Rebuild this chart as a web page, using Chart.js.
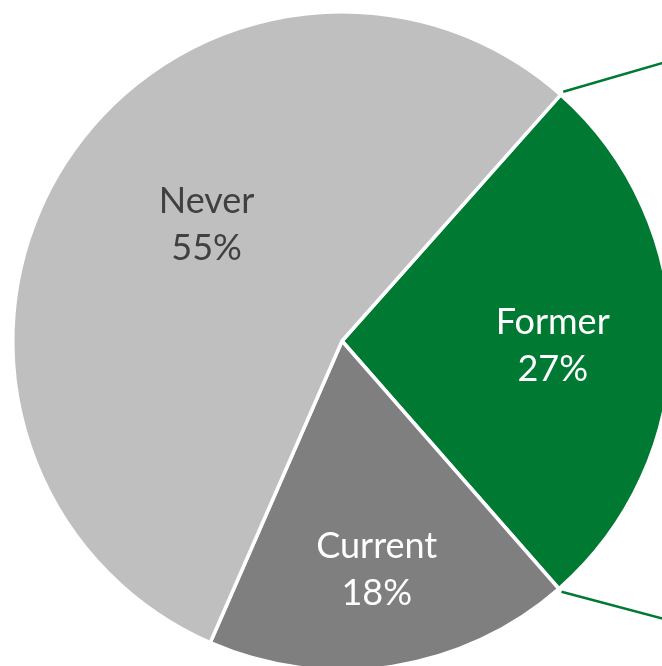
<!DOCTYPE html>
<html>
<head>
<meta charset="utf-8">
<script src="https://cdn.jsdelivr.net/npm/chart.js@4"></script>
<style>
  html, body { margin: 0; padding: 0; background: #fff; overflow: hidden; }
  #wrap { width: 684px; height: 682px; position: relative; }
</style>
</head>
<body>
<div id="wrap"><canvas id="myChart"></canvas></div>
<script>
// data
const categories = ['Former', 'Current', 'Never'];
const shares = [27, 18, 55];
const sliceColors = ['#007A33', '#7F7F7F', '#BFBFBF'];
const labelColors = ['#ffffff', '#ffffff', '#404040'];

// slice labels: name on one line, percent on the next
const sliceLabels = {
  id: 'sliceLabels',
  afterDatasetsDraw(chart, args, opts) {
    const ctx = chart.ctx;
    const meta = chart.getDatasetMeta(0);
    meta.data.forEach(function(arc, i) {
      const p = opts.place[i];
      const mid = (arc.startAngle + arc.endAngle) / 2 + p.shift * Math.PI / 180;
      const r = arc.outerRadius * p.frac;
      const x = arc.x + Math.cos(mid) * r;
      const y = arc.y + Math.sin(mid) * r;
      ctx.save();
      ctx.fillStyle = labelColors[i];
      ctx.font = '36px Lato, "DejaVu Sans", sans-serif';
      ctx.textAlign = 'center';
      ctx.textBaseline = 'middle';
      ctx.fillText(categories[i], x, y - 19);
      ctx.fillText(shares[i] + '%', x, y + 28);
      ctx.restore();
    });
  }
};

// connector lines leaving the green slice towards the right
const connectors = {
  id: 'connectors',
  afterDatasetsDraw(chart) {
    const ctx = chart.ctx;
    const arc = chart.getDatasetMeta(0).data[0];
    const r = arc.outerRadius + 4;
    const a1 = arc.startAngle, a2 = arc.endAngle;
    const p1 = { x: arc.x + Math.cos(a1) * r, y: arc.y + Math.sin(a1) * r };
    const p2 = { x: arc.x + Math.cos(a2) * r, y: arc.y + Math.sin(a2) * r };
    ctx.save();
    ctx.strokeStyle = '#007A33';
    ctx.lineWidth = 2.5;
    ctx.beginPath();
    ctx.moveTo(p1.x, p1.y);
    ctx.lineTo(p1.x + 140, p1.y - 140 * 0.29);
    ctx.moveTo(p2.x, p2.y);
    ctx.lineTo(p2.x + 140, p2.y + 140 * 0.265);
    ctx.stroke();
    ctx.restore();
  }
};

const ctx = document.getElementById('myChart').getContext('2d');
const myChart = new Chart(ctx, {
  type: 'pie',
  data: {
    labels: categories,
    datasets: [{
      data: shares,
      backgroundColor: sliceColors,
      borderColor: '#ffffff',
      borderWidth: 3.5
    }]
  },
  options: {
    responsive: true,
    maintainAspectRatio: false,
    animation: false,
    rotation: 41.6,
    layout: { padding: { left: 11, right: 11, top: 10, bottom: 10 } },
    plugins: {
      legend: { display: false },
      tooltip: { enabled: false },
      sliceLabels: {
        place: [
          { frac: 0.64, shift: 0 },
          { frac: 0.69, shift: 0 },
          { frac: 0.55, shift: 9 }
        ]
      }
    }
  },
  plugins: [connectors, sliceLabels]
});
</script>
</body>
</html>
